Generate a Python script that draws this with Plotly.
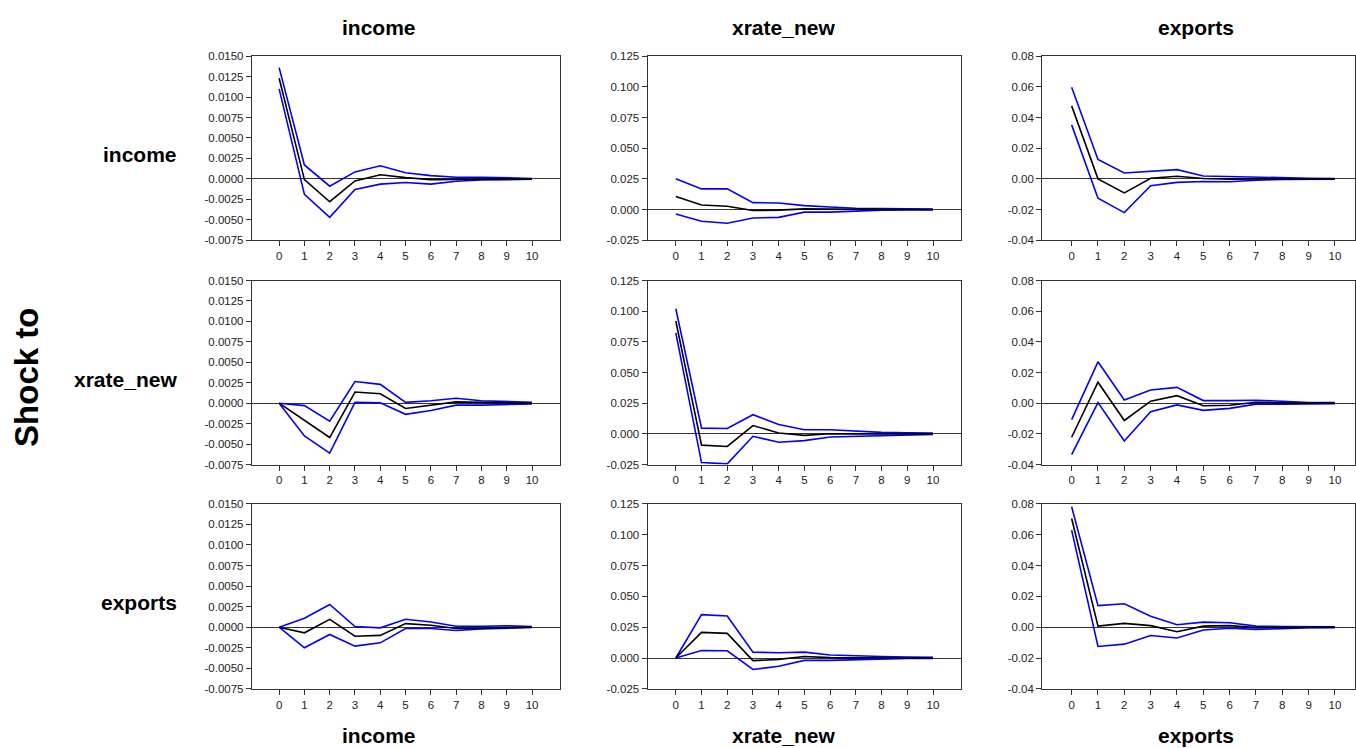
import plotly.graph_objects as go

# ---------------- data ----------------
horizons = list(range(11))
variables = ["income", "xrate_new", "exports"]

# Shock to income
inc_inc_resp  = [0.0123, -0.0001, -0.0028, -0.00025, 0.0005, 0.00015, -0.0001, -0.00005, 0.0, 0.0, 0.0]
inc_inc_upper = [0.0136, 0.0017, -0.0009, 0.00085, 0.0016, 0.00075, 0.0004, 0.0002, 0.0002, 0.0001, 0.00005]
inc_inc_lower = [0.0110, -0.0019, -0.0047, -0.0013, -0.00065, -0.00045, -0.00065, -0.0003, -0.00015, -0.0001, -0.00005]

inc_xr_resp  = [0.0107, 0.0037, 0.0027, -0.0008, -0.0005, 0.0005, 0.0003, 0.0, 0.0, 0.0, 0.0]
inc_xr_upper = [0.0251, 0.0168, 0.0168, 0.0056, 0.0053, 0.0032, 0.0021, 0.0010, 0.0008, 0.0005, 0.0003]
inc_xr_lower = [-0.0037, -0.0096, -0.0112, -0.0069, -0.0064, -0.0021, -0.0021, -0.0011, -0.0005, -0.0003, -0.0003]

inc_ex_resp  = [0.0476, 0.0, -0.0092, 0.0004, 0.0017, 0.0002, -0.0002, 0.0, 0.0, 0.0, 0.0]
inc_ex_upper = [0.0598, 0.0126, 0.0038, 0.0051, 0.0060, 0.0019, 0.0015, 0.0009, 0.0006, 0.0004, 0.0002]
inc_ex_lower = [0.0352, -0.0126, -0.0220, -0.0045, -0.0023, -0.0017, -0.0019, -0.0009, -0.0004, -0.0002, -0.0002]

# Shock to xrate_new
xr_inc_resp  = [0.0, -0.0021, -0.0042, 0.00136, 0.00116, -0.00064, -0.00024, 0.00016, 0.0001, 0.00004, 0.0]
xr_inc_upper = [0.0, -0.0003, -0.0022, 0.00265, 0.0023, 0.0001, 0.0003, 0.0006, 0.0003, 0.0002, 0.0001]
xr_inc_lower = [0.0, -0.0040, -0.0061, 0.0001, 0.00004, -0.00136, -0.0009, -0.00024, -0.00024, -0.0002, -0.0001]

xr_xr_resp  = [0.0920, -0.0092, -0.0103, 0.0068, 0.0007, -0.0012, 0.0001, 0.0, 0.0, 0.0, 0.0]
xr_xr_upper = [0.1020, 0.0047, 0.0044, 0.0156, 0.0076, 0.0033, 0.0033, 0.0020, 0.0012, 0.0009, 0.0007]
xr_xr_lower = [0.0824, -0.0234, -0.0245, -0.0020, -0.0068, -0.0055, -0.0025, -0.0020, -0.0012, -0.0007, -0.0004]

xr_ex_resp  = [-0.0222, 0.0137, -0.0113, 0.0013, 0.0049, -0.0017, -0.0013, 0.0006, 0.0002, 0.0, 0.0]
xr_ex_upper = [-0.0107, 0.0270, 0.0021, 0.0086, 0.0103, 0.0017, 0.0017, 0.0019, 0.0013, 0.0004, 0.0004]
xr_ex_lower = [-0.0336, 0.0004, -0.0246, -0.0056, -0.0011, -0.0047, -0.0034, -0.0006, -0.0006, -0.0004, -0.0004]

# Shock to exports
ex_inc_resp  = [0.0, -0.00068, 0.00096, -0.0011, -0.0010, 0.00044, 0.00024, -0.00016, -0.00012, -0.00004, 0.0]
ex_inc_upper = [0.0, 0.0011, 0.00276, 0.00008, -0.00008, 0.00096, 0.00064, 0.00012, 0.00012, 0.00016, 0.00008]
ex_inc_lower = [0.0, -0.0025, -0.00088, -0.0023, -0.0019, -0.00016, -0.00016, -0.0004, -0.0002, -0.00008, -0.00004]

ex_xr_resp  = [0.0, 0.0208, 0.0200, -0.0021, -0.0011, 0.0013, 0.0003, 0.0, 0.0, 0.0, 0.0]
ex_xr_upper = [0.0, 0.0352, 0.0341, 0.0048, 0.0043, 0.0048, 0.0024, 0.0016, 0.0013, 0.0008, 0.0005]
ex_xr_lower = [0.0, 0.0061, 0.0059, -0.0093, -0.0067, -0.0019, -0.0019, -0.0013, -0.0008, -0.0003, -0.0003]

ex_ex_resp  = [0.0705, 0.0007, 0.0025, 0.0010, -0.0029, 0.0007, 0.0010, -0.0003, -0.0003, -0.0001, 0.0]
ex_ex_upper = [0.0781, 0.0140, 0.0152, 0.0071, 0.0016, 0.0033, 0.0029, 0.0007, 0.0005, 0.0005, 0.0003]
ex_ex_lower = [0.0630, -0.0125, -0.0110, -0.0054, -0.0070, -0.0018, -0.0007, -0.0014, -0.0010, -0.0003, -0.0003]

# y tick values per response column
col_tickvals = [
    [-0.0075, -0.005, -0.0025, 0.0, 0.0025, 0.005, 0.0075, 0.01, 0.0125, 0.015],
    [-0.025, 0.0, 0.025, 0.05, 0.075, 0.1, 0.125],
    [-0.04, -0.02, 0.0, 0.02, 0.04, 0.06, 0.08],
]
col_decimals = [4, 3, 2]

panels = [
    [(inc_inc_resp, inc_inc_upper, inc_inc_lower), (inc_xr_resp, inc_xr_upper, inc_xr_lower), (inc_ex_resp, inc_ex_upper, inc_ex_lower)],
    [(xr_inc_resp, xr_inc_upper, xr_inc_lower), (xr_xr_resp, xr_xr_upper, xr_xr_lower), (xr_ex_resp, xr_ex_upper, xr_ex_lower)],
    [(ex_inc_resp, ex_inc_upper, ex_inc_lower), (ex_xr_resp, ex_xr_upper, ex_xr_lower), (ex_ex_resp, ex_ex_upper, ex_ex_lower)],
]

# ---------------- layout geometry (pixels) ----------------
W, H = 1356, 748
col_px = [(252, 560), (648, 962), (1043, 1356)]
col_xrange = [(-1.08, 11.09), (-1.1, 11.1), (-1.117, 10.76)]
row_px = [(51, 238), (279, 466), (506, 694)]

fig = go.Figure()
layout = dict(
    width=W, height=H,
    margin=dict(l=0, r=0, t=0, b=0),
    paper_bgcolor="white", plot_bgcolor="white",
    showlegend=False,
    font=dict(family="Liberation Sans, Arial, sans-serif", color="#222"),
)

line_col = "#333333"
for r in range(3):
    for c in range(3):
        k = r * 3 + c + 1
        xa = "xaxis" if k == 1 else f"xaxis{k}"
        ya = "yaxis" if k == 1 else f"yaxis{k}"
        xr = "x" if k == 1 else f"x{k}"
        yr = "y" if k == 1 else f"y{k}"
        resp, up, lo = panels[r][c]
        for series, color in ((up, "#0000FF"), (lo, "#0000FF"), (resp, "#000000")):
            fig.add_trace(go.Scatter(x=horizons, y=series, mode="lines",
                                     line=dict(color=color, width=1.6),
                                     xaxis=xr, yaxis=yr, hoverinfo="skip"))
        x0, x1 = col_px[c]
        y0, y1 = row_px[r]
        tv = col_tickvals[c]
        layout[xa] = dict(
            domain=[x0 / W, x1 / W], anchor=yr, range=list(col_xrange[c]),
            tickvals=horizons, ticktext=[str(h) for h in horizons],
            ticks="outside", ticklen=5, tickcolor=line_col, tickwidth=1,
            showline=True, linecolor=line_col, linewidth=1, mirror=True,
            showgrid=False, zeroline=False,
            tickfont=dict(size=11.5, color="#222"),
        )
        layout[ya] = dict(
            domain=[1 - y1 / H, 1 - y0 / H], anchor=xr, range=[tv[0], tv[-1]],
            tickvals=tv, ticktext=[f"{v:.{col_decimals[c]}f}" for v in tv],
            ticks="outside", ticklen=5, tickcolor=line_col, tickwidth=1,
            showline=True, linecolor=line_col, linewidth=1, mirror=True,
            showgrid=False, zeroline=True, zerolinecolor=line_col, zerolinewidth=1,
            tickfont=dict(size=11.5, color="#222"),
        )

annotations = []
title_x = [379, 784, 1197]
for c, name in enumerate(variables):
    annotations.append(dict(text=f"<b>{name}</b>", x=title_x[c] / W, y=1 - 22 / H,
                            xref="paper", yref="paper", showarrow=False,
                            xanchor="center", yanchor="middle",
                            font=dict(size=21, color="#000")))
    annotations.append(dict(text=f"<b>{name}</b>", x=title_x[c] / W, y=1 - 741 / H,
                            xref="paper", yref="paper", showarrow=False,
                            xanchor="center", yanchor="middle",
                            font=dict(size=21, color="#000")))
row_label_y = [151, 380, 606]
for r, name in enumerate(variables):
    annotations.append(dict(text=f"<b>{name}</b>", x=179 / W, y=1 - row_label_y[r] / H,
                            xref="paper", yref="paper", showarrow=False,
                            xanchor="right", yanchor="middle",
                            font=dict(size=21, color="#000")))
annotations.append(dict(text="<b>Shock to</b>", x=27 / W, y=1 - 377 / H,
                        xref="paper", yref="paper", showarrow=False, textangle=-90,
                        xanchor="center", yanchor="middle",
                        font=dict(size=33, color="#000")))
layout["annotations"] = annotations

fig.update_layout(**layout)
fig.write_html(
    "out.html",
    config={"displayModeBar": False},
    post_script="document.body.style.margin='0';document.body.style.overflow='hidden';",
)
